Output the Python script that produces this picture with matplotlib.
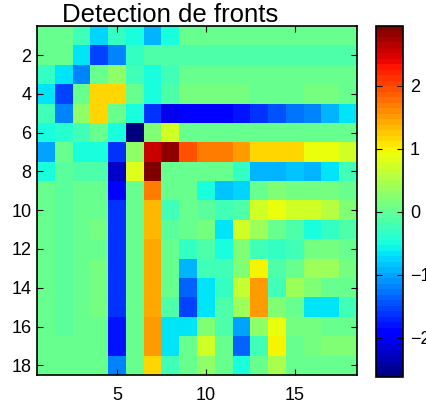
import numpy as np
import matplotlib
matplotlib.use("Agg")
import matplotlib.pyplot as plt

plt.rcParams['font.family'] = ['Liberation Sans', 'DejaVu Sans']

# values, one list per row (row 1 at the top)
rows = [
    [0.05, 0.05, -0.25, -0.75, -0.3, -0.5, -0.95, -0.5, 0.05, 0.05, 0.05, 0.05, 0.05, 0.05, 0.05, 0.05, 0.05, 0.05],
    [0.05, 0.05, -0.65, -1.5, -1.22, -0.35, -0.1, -0.1, -0.1, -0.1, -0.1, -0.1, -0.1, -0.1, -0.1, -0.1, -0.1, -0.1],
    [-0.3, -0.7, -1.2, 0.0, 0.3, -0.25, -0.5, -0.2, 0.05, 0.05, 0.05, 0.05, 0.05, 0.05, 0.05, 0.05, 0.05, 0.05],
    [-0.65, -1.5, 0.0, 1.15, 1.15, 0.0, -0.5, -0.1, 0.15, 0.15, 0.15, 0.15, 0.05, 0.05, 0.05, 0.15, 0.15, 0.05],
    [-0.25, -1.2, 0.3, 1.15, 0.0, -0.5, -1.6, -2.05, -2.0, -1.95, -1.95, -1.8, -1.65, -1.45, -1.3, -1.15, -0.95, -0.7],
    [-0.5, -0.4, -0.2, 0.0, -0.5, -2.62, 0.2, 0.7, 0.05, 0.05, 0.05, 0.05, 0.05, 0.05, 0.05, 0.05, 0.05, 0.05],
    [-1.0, 0.0, -0.5, -0.5, -1.65, 0.3, 2.6, 2.85, 1.95, 1.7, 1.7, 1.5, 1.15, 1.15, 1.15, 0.87, 0.87, 0.7],
    [-0.5, -0.05, -0.1, -0.1, -2.2, 0.8, 2.95, 0.0, 0.0, 0.0, 0.0, -0.3, -0.95, -0.95, -0.8, -0.9, -0.65, -0.2],
    [0.05, -0.05, 0.05, 0.05, -1.95, 0.0, 1.7, 0.0, 0.0, -0.5, -0.8, -0.75, 0.0, 0.2, 0.1, 0.1, 0.1, 0.05],
    [0.05, -0.05, 0.05, 0.05, -1.65, 0.05, 1.3, -0.25, 0.0, -0.05, -0.25, -0.1, 0.75, 0.87, 0.7, 0.7, 0.55, 0.2],
    [0.05, -0.05, 0.05, 0.1, -1.6, 0.05, 1.3, -0.05, 0.05, 0.1, -0.65, 0.7, 0.35, 0.05, -0.15, -0.5, -0.3, -0.1],
    [0.05, -0.05, 0.05, 0.05, -1.6, 0.05, 1.4, 0.05, -0.35, -0.1, -0.5, 0.25, -0.2, -0.3, -0.2, 0.1, 0.15, 0.05],
    [0.05, -0.05, 0.05, 0.1, -1.6, 0.05, 1.4, 0.05, -0.9, -0.2, -0.2, 0.25, 1.0, -0.1, 0.05, 0.4, 0.4, 0.1],
    [0.05, -0.05, 0.05, 0.1, -1.6, 0.05, 1.4, 0.05, -1.35, -0.65, -0.35, 0.65, 1.55, -0.25, 0.4, 0.2, 0.05, 0.05],
    [0.05, -0.05, 0.05, 0.1, -1.6, 0.05, 1.4, -0.15, -1.5, -0.7, -0.15, 0.4, 1.5, 0.25, 0.05, -0.7, -0.65, -0.2],
    [0.05, -0.05, 0.05, 0.05, -1.75, 0.05, 1.55, -0.7, -0.7, 0.2, -0.1, -1.05, 0.3, 0.9, 0.1, 0.1, 0.05, 0.05],
    [0.05, 0.05, 0.05, 0.05, -1.75, 0.05, 1.55, -0.7, 0.05, 0.7, 0.05, -1.35, -0.2, 1.0, 0.05, 0.1, 0.2, 0.2],
    [0.05, 0.05, 0.05, 0.05, -1.2, 0.05, 1.15, -0.25, 0.05, 0.3, 0.05, -0.5, 0.05, 0.45, 0.05, 0.05, 0.05, 0.05],
]
xticks = [5, 10, 15]
yticks = [2, 4, 6, 8, 10, 12, 14, 16, 18]
cbar_ticks = [-2, -1, 0, 1, 2]
title = "Detection de fronts"

field = np.array(rows)
n_rows, n_cols = field.shape

fig = plt.figure(figsize=(4.27, 4.08), dpi=100)
ax = fig.add_axes([37 / 427, 1 - 375 / 408, 320 / 427, 349 / 408])
cax = fig.add_axes([376 / 427, 1 - 377 / 408, 27 / 427, 351 / 408])

im = ax.imshow(field, cmap=plt.get_cmap('jet', 64), interpolation='nearest',
               aspect='auto', extent=(0.5, n_cols + 0.5, n_rows + 0.5, 0.5),
               vmin=field.min(), vmax=field.max())

ax.set_xticks(xticks)
ax.set_yticks(yticks)
ax.tick_params(direction='in', length=4, width=0.8, top=True, right=True,
               labelsize=13)
ax.tick_params(axis='x', pad=9)
ax.tick_params(axis='y', pad=4)
for s in ax.spines.values():
    s.set_linewidth(1.2)

# title sits left of the axes centre in the reference
fig.text(170 / 427, 1 - 22 / 408, title, ha='center', va='baseline', fontsize=18.5)

# the -1 / -2 labels run off the right edge, as in the reference
cb = fig.colorbar(im, cax=cax, ticks=cbar_ticks)
cb.outline.set_linewidth(1.2)
cax.tick_params(direction='in', length=4, width=0.8, left=True, right=True,
                labelsize=13, pad=5)

fig.savefig('out.png', dpi=100)
